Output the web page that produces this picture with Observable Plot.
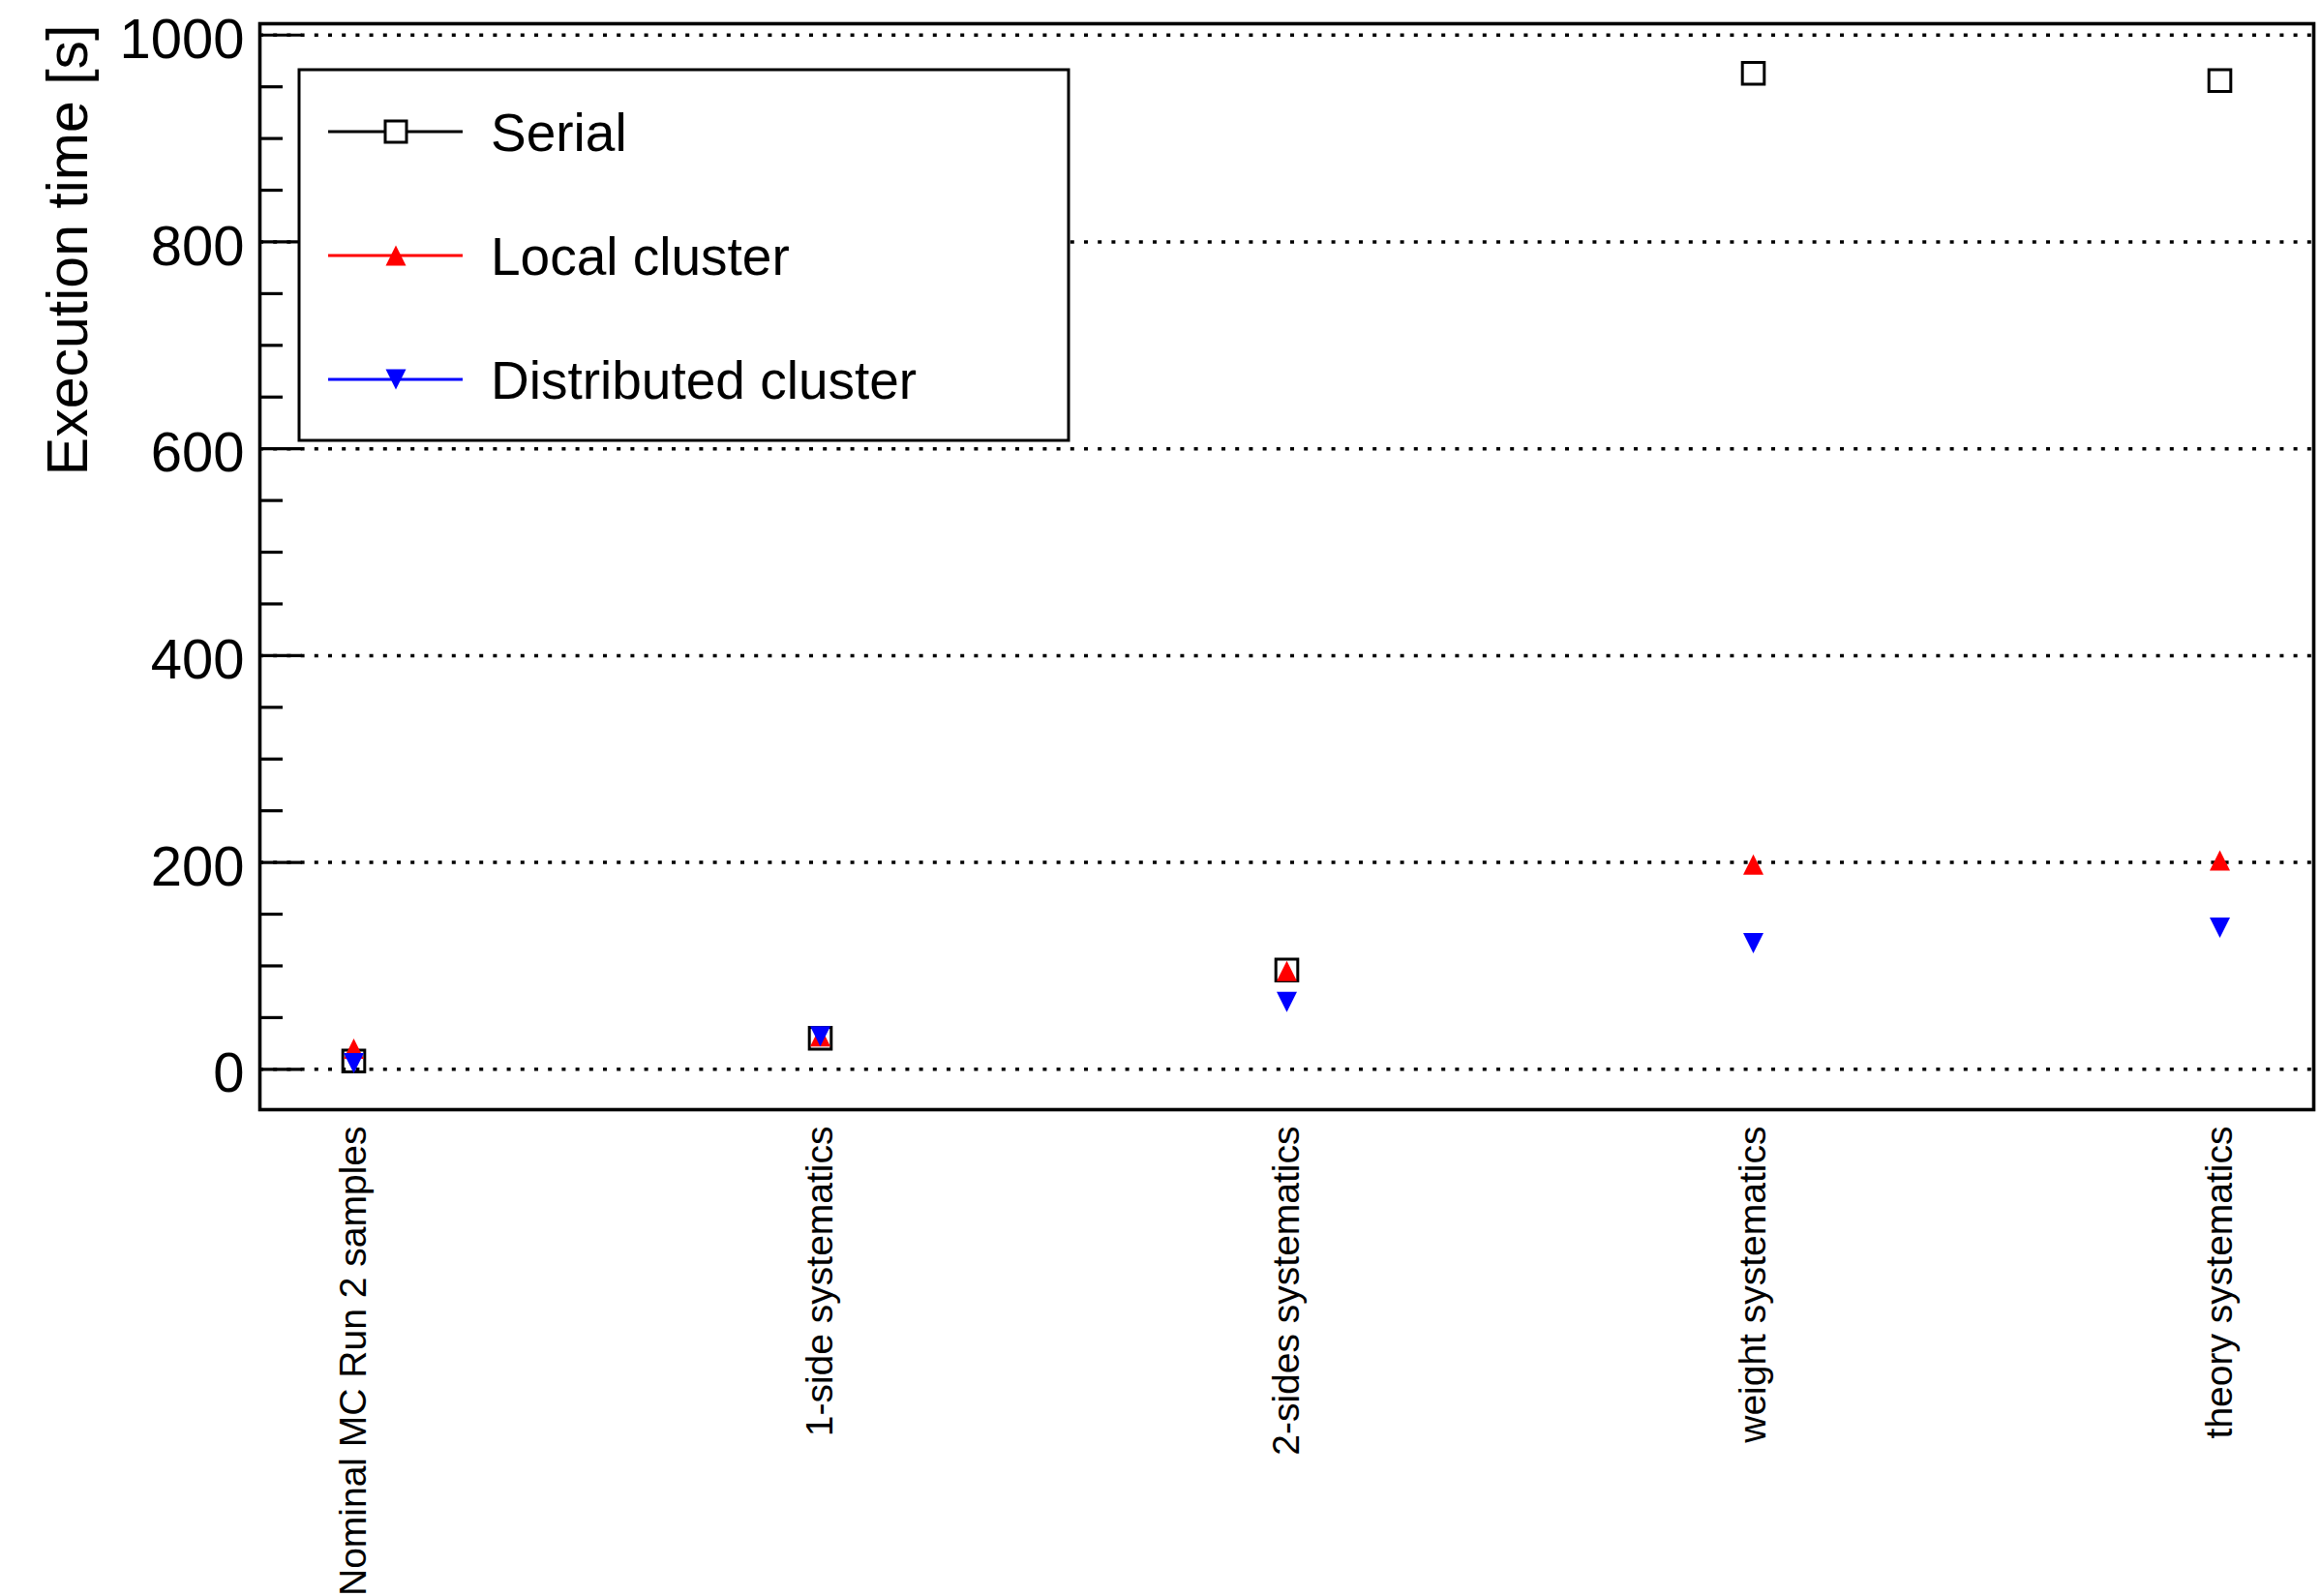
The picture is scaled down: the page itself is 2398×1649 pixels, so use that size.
<!DOCTYPE html>
<html>
<head>
<meta charset="utf-8">
<script src="https://cdn.jsdelivr.net/npm/d3@7"></script>
<script src="https://cdn.jsdelivr.net/npm/@observablehq/plot@0.6"></script>
<style>
  html, body { margin: 0; padding: 0; background: #fff; }
  #chart { position: relative; width: 2398px; height: 1649px; }
</style>
</head>
<body>
<div id="chart"></div>
<script>
// ---- data ----
const categories = [
  "Nominal MC Run 2 samples",
  "1-side systematics",
  "2-sides systematics",
  "weight systematics",
  "theory systematics"
];
const serial = [8, 30, 96, 963, 956];
const localCluster = [20, 32, 95, 198, 202];
const distributedCluster = [6, 32, 65, 122, 137];
const yTicks = [0, 200, 400, 600, 800, 1000];
const yMinorTicks = [50, 100, 150, 250, 300, 350, 450, 500, 550, 650, 700, 750, 850, 900, 950];
const seriesNames = ["Serial", "Local cluster", "Distributed cluster"];
const seriesColors = ["#000000", "#ff0000", "#0000ff"];

// ---- layout ----
const W = 2398, H = 1649;
const mLeft = 268, mRight = 8, mTop = 24, mBottom = 503;
const frameW = W - mLeft - mRight;
const FONT = "'Liberation Sans', Arial, Helvetica, sans-serif";

// custom ROOT-like marker shapes (size = pi r^2)
const squareSym = { draw(ctx, size) { const r = Math.sqrt(size / Math.PI); ctx.moveTo(-r, -r); ctx.lineTo(r, -r); ctx.lineTo(r, r); ctx.lineTo(-r, r); ctx.closePath(); } };
const triUpSym = { draw(ctx, size) { const r = Math.sqrt(size / Math.PI); ctx.moveTo(0, -r); ctx.lineTo(r, r); ctx.lineTo(-r, r); ctx.closePath(); } };
const triDownSym = { draw(ctx, size) { const r = Math.sqrt(size / Math.PI); ctx.moveTo(0, r); ctx.lineTo(r, -r); ctx.lineTo(-r, -r); ctx.closePath(); } };

const chart = Plot.plot({
  width: W,
  height: H,
  marginLeft: mLeft,
  marginRight: mRight,
  marginTop: mTop,
  marginBottom: mBottom,
  style: { fontFamily: FONT, color: "black", background: "white", overflow: "visible" },
  x: { type: "point", domain: categories, padding: 0.197, axis: null },
  y: { domain: [-39, 1011], axis: null },
  marks: [
    Plot.ruleY(yTicks, { stroke: "black", strokeWidth: 3.5, strokeDasharray: "4,10.2" }),
    Plot.tickY(yMinorTicks, { y: d => d, stroke: "black", strokeWidth: 3.2, insetRight: frameW - 24 }),
    Plot.tickY(yTicks, { y: d => d, stroke: "black", strokeWidth: 3.2, insetRight: frameW - 44 }),
    Plot.frame({ stroke: "black", strokeWidth: 3.6 }),
    Plot.axisY({ ticks: yTicks, tickFormat: d => String(d), tickSize: 0, tickPadding: 16, fontSize: 58, dy: 5, label: null }),
    Plot.axisX({ tickSize: 0, tickPadding: 17, tickRotate: -90, textAnchor: "end", fontSize: 39, label: null }),
    Plot.text(["Execution time [s]"], {
      text: d => d, frameAnchor: "top-left", rotate: -90, textAnchor: "end", lineAnchor: "bottom",
      dx: 89 - mLeft, dy: 1, fontSize: 59, fill: "black"
    }),
    Plot.dot(categories, { x: d => d, y: (d, i) => serial[i], symbol: squareSym, r: 11.3, stroke: "black", strokeWidth: 3, fill: "none" }),
    Plot.dot(categories, { x: d => d, y: (d, i) => localCluster[i], symbol: triUpSym, r: 10.5, fill: "#ff0000", stroke: "none" }),
    Plot.dot(categories, { x: d => d, y: (d, i) => distributedCluster[i], symbol: triDownSym, r: 10.5, fill: "#0000ff", stroke: "none" })
  ]
});

document.getElementById("chart").appendChild(chart);

// ---- legend (inside the plot area, top-left) ----
const svg = d3.select(chart);
const lg = svg.append("g").attr("class", "legend").attr("text-anchor", "start");
lg.append("rect")
  .attr("x", 309).attr("y", 72).attr("width", 795).attr("height", 383)
  .attr("fill", "white").attr("stroke", "black").attr("stroke-width", 3);
const legendSyms = [squareSym, triUpSym, triDownSym];
const legendR = [11, 10.5, 10.5];
seriesNames.forEach((name, i) => {
  const cy = 136 + i * 128;
  const row = lg.append("g");
  row.append("line")
    .attr("x1", 339).attr("x2", 478).attr("y1", cy).attr("y2", cy)
    .attr("stroke", seriesColors[i]).attr("stroke-width", 3);
  const p = d3.path();
  legendSyms[i].draw(p, Math.PI * legendR[i] * legendR[i]);
  const mk = row.append("path").attr("d", p.toString()).attr("transform", `translate(409,${cy})`);
  if (i === 0) mk.attr("fill", "white").attr("stroke", "black").attr("stroke-width", 3);
  else mk.attr("fill", seriesColors[i]);
  row.append("text")
    .attr("x", 507).attr("y", cy + 20)
    .attr("text-anchor", "start")
    .attr("font-family", FONT).attr("font-size", 55).attr("fill", "black")
    .text(name);
});
</script>
</body>
</html>
